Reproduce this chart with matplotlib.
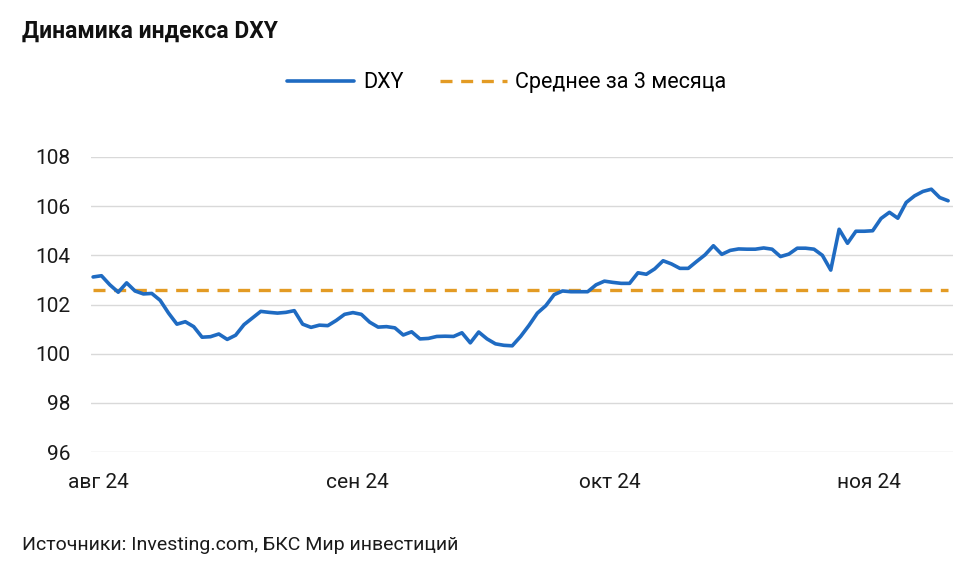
import numpy as np
import pandas as pd
import matplotlib
matplotlib.use("Agg")
import matplotlib.pyplot as plt

plt.rcParams['font.family'] = ['Roboto', 'DejaVu Sans']

# DXY, daily values (01.08.2024 - 11.11.2024)
start_date = "2024-08-01"
dxy = [
    103.12, 103.17, 102.80, 102.50, 102.88, 102.55, 102.43, 102.45, 102.17, 101.65,
    101.20, 101.30, 101.10, 100.67, 100.69, 100.80, 100.58, 100.75, 101.18, 101.45,
    101.72, 101.68, 101.65, 101.68, 101.75, 101.20, 101.07, 101.16, 101.14, 101.35,
    101.60, 101.67, 101.60, 101.28, 101.08, 101.10, 101.05, 100.76, 100.89, 100.60,
    100.62, 100.70, 100.71, 100.70, 100.85, 100.44, 100.88, 100.60, 100.40, 100.34,
    100.32, 100.70, 101.15, 101.65, 101.95, 102.40, 102.55, 102.52, 102.52, 102.52,
    102.80, 102.95, 102.90, 102.86, 102.86, 103.29, 103.23, 103.45, 103.78, 103.65,
    103.47, 103.47, 103.75, 104.02, 104.39, 104.04, 104.20, 104.26, 104.25, 104.25,
    104.30, 104.25, 103.95, 104.05, 104.29, 104.29, 104.25, 104.00, 103.40, 105.06,
    104.49, 104.98, 104.98, 105.00, 105.50, 105.75, 105.51, 106.15, 106.42, 106.60,
    106.69, 106.35, 106.22,
]
avg_3m = 102.6

month_ticks = ["2024-08-01", "2024-09-01", "2024-10-01", "2024-11-01"]
month_labels = ["авг 24", "сен 24", "окт 24", "ноя 24"]

dates = pd.date_range(start_date, periods=len(dxy), freq="D")

fig = plt.figure(figsize=(9.79, 5.73), dpi=100)
ax = fig.add_axes([91 / 979, 1 - 452 / 573, (953 - 91) / 979, (452 - 157) / 573])

ax.plot(dates, dxy, color="#1f6bc2", lw=2.6, solid_joinstyle="round",
        solid_capstyle="round", label="DXY", zorder=3)
ax.plot(dates, [avg_3m] * len(dates), color="#e39b24", lw=2.4,
        dashes=(3.6, 2.6), label="Среднее за 3 месяца", zorder=2)

ax.set_ylim(96, 108)
ax.set_yticks(np.arange(96, 109, 2))
ax.set_xlim(dates[0] - pd.Timedelta(hours=6), dates[-1] + pd.Timedelta(hours=14))
ax.set_xticks(pd.to_datetime(month_ticks) + pd.Timedelta(hours=14))
ax.set_xticklabels(month_labels)

ax.grid(axis="y", color="#d9d9d9", lw=1)
ax.set_axisbelow(True)
for s in ax.spines.values():
    s.set_visible(False)
ax.tick_params(axis="both", length=0, labelsize=15, colors="#1a1a1a")
ax.tick_params(axis="y", pad=15)
ax.tick_params(axis="x", pad=15)

fig.text(22 / 979, 1 - 31 / 573, "Динамика индекса DXY", fontsize=16.5,
         fontweight="bold", va="center", ha="left", color="#111111")
fig.text(22 / 979, 1 - 545 / 573, "Источники: Investing.com, БКС Мир инвестиций",
         fontsize=14, va="center", ha="left", color="#1a1a1a")

fig.legend(loc="center", bbox_to_anchor=(507 / 979, 1 - 83 / 573), ncol=2,
           frameon=False, fontsize=15.5, handlelength=3.1, columnspacing=1.7,
           handletextpad=0.4)

fig.savefig("out.png", dpi=100, facecolor="white")
